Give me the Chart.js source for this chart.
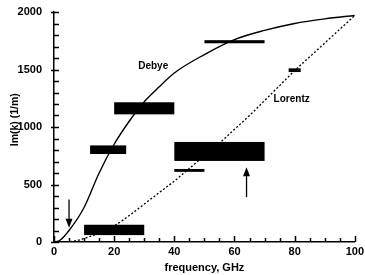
<!DOCTYPE html>
<html>
<head>
<meta charset="utf-8">
<script src="https://cdn.jsdelivr.net/npm/chart.js@4"></script>
<style>
  html, body { margin: 0; padding: 0; background: #fff; }
  #wrap { width: 365px; height: 275px; }
</style>
</head>
<body>
<div id="wrap"><canvas id="chart"></canvas></div>
<script>
// Curves
const debyeX = [0, 2, 5, 10, 15, 20, 25, 30, 35, 40, 50, 60, 70, 80, 90, 100];
const debyeY = [0, 15, 100, 300, 600, 850, 1050, 1220, 1350, 1470, 1630, 1760, 1840, 1900, 1940, 1970];
const lorentzX = [4, 7, 10, 15, 20, 25, 30, 35, 40, 45, 50, 55, 60, 65, 70, 75, 80, 85, 90, 95, 100];
const lorentzY = [0, 10, 30, 80, 140, 230, 330, 430, 530, 640, 750, 860, 980, 1100, 1230, 1360, 1490, 1610, 1730, 1850, 1970];

// Measurement bars: [xFrom, xTo, yLow, yHigh]
const barsX0 = [10, 12, 20, 40, 40, 50, 78];
const barsX1 = [30, 24, 40, 70, 50, 70, 82];
const barsY0 = [60, 765, 1110, 705, 610, 1728, 1478];
const barsY1 = [150, 840, 1215, 870, 635, 1755, 1510];

// Arrows: x, tail y, head y
const arrowX = [5, 64];
const arrowFrom = [370, 390];
const arrowTo = [125, 650];

// Curve labels
const labelText = ['Debye', 'Lorentz'];
const labelX = [28, 73];
const labelY = [1530, 1240];

const xTicks = [0, 20, 40, 60, 80, 100];
const yTicks = [0, 500, 1000, 1500, 2000];

const FONT = 'Liberation Sans, Arial, sans-serif';

const toPts = (xs, ys) => xs.map((x, i) => ({ x: x, y: ys[i] }));

// bars, arrows, text and inward ticks
const extras = {
    id: 'extras',
    afterDraw(chart) {
        const ctx = chart.ctx;
        const xs = chart.scales.x;
        const ys = chart.scales.y;
        const area = chart.chartArea;
        ctx.save();

        // bars
        ctx.fillStyle = '#000';
        for (let i = 0; i < barsX0.length; i++) {
            const l = xs.getPixelForValue(barsX0[i]);
            const r = xs.getPixelForValue(barsX1[i]);
            const t = ys.getPixelForValue(barsY1[i]);
            const b = ys.getPixelForValue(barsY0[i]);
            ctx.fillRect(l, t, r - l, b - t);
        }

        // arrows
        ctx.strokeStyle = '#000';
        ctx.lineWidth = 1.3;
        for (let i = 0; i < arrowX.length; i++) {
            const px = xs.getPixelForValue(arrowX[i]);
            const y0 = ys.getPixelForValue(arrowFrom[i]);
            const y1 = ys.getPixelForValue(arrowTo[i]);
            const dir = y1 > y0 ? 1 : -1;
            ctx.beginPath();
            ctx.moveTo(px, y0);
            ctx.lineTo(px, y1 - dir * 6);
            ctx.stroke();
            ctx.beginPath();
            ctx.moveTo(px, y1);
            ctx.lineTo(px - 3.5, y1 - dir * 9);
            ctx.lineTo(px + 3.5, y1 - dir * 9);
            ctx.closePath();
            ctx.fill();
        }

        // curve labels
        ctx.font = 'bold 10px ' + FONT;
        ctx.textAlign = 'left';
        ctx.textBaseline = 'middle';
        for (let i = 0; i < labelText.length; i++) {
            ctx.fillText(labelText[i], xs.getPixelForValue(labelX[i]), ys.getPixelForValue(labelY[i]));
        }

        // tick marks, mostly pointing into the plot
        ctx.lineWidth = 1.5;
        ctx.beginPath();
        for (let v = 0; v <= 2000; v += 100) {
            const py = Math.round(ys.getPixelForValue(v)) + 0.5;
            const major = v % 500 === 0;
            ctx.moveTo(area.left - (major ? 3 : 0), py);
            ctx.lineTo(area.left + 5, py);
        }
        for (let v = 0; v <= 100; v += 5) {
            const px = Math.round(xs.getPixelForValue(v)) + 0.5;
            const len = v % 20 === 0 ? 6 : 4;
            ctx.moveTo(px, area.bottom);
            ctx.lineTo(px, area.bottom - len);
        }
        ctx.stroke();
        ctx.restore();
    }
};

new Chart(document.getElementById('chart'), {
    type: 'line',
    data: {
        datasets: [{
            label: 'Debye',
            data: toPts(debyeX, debyeY),
            borderColor: '#000',
            borderWidth: 1.4,
            pointRadius: 0,
            cubicInterpolationMode: 'monotone',
            fill: false
        }, {
            label: 'Lorentz',
            data: toPts(lorentzX, lorentzY),
            borderColor: '#000',
            borderWidth: 1.3,
            borderDash: [2, 2],
            pointRadius: 0,
            cubicInterpolationMode: 'monotone',
            fill: false
        }]
    },
    options: {
        responsive: true,
        maintainAspectRatio: false,
        animation: false,
        layout: { padding: { left: 0, top: 12, right: 9, bottom: 0 } },
        plugins: {
            legend: { display: false },
            tooltip: { enabled: false }
        },
        scales: {
            x: {
                type: 'linear',
                min: 0,
                max: 100,
                grid: { display: false, tickLength: 2 },
                border: { display: true, color: '#000', width: 1.5 },
                afterBuildTicks: (s) => { s.ticks = xTicks.map(v => ({ value: v })); },
                ticks: { color: '#000', font: { family: FONT, size: 11, weight: 'bold' }, padding: 1, maxRotation: 0, callback: v => String(v) },
                title: { display: true, text: 'frequency, GHz', color: '#000', font: { family: FONT, size: 11, weight: 'bold' }, padding: { top: 4, bottom: 0 } },
                afterFit: (s) => { s.height = 33; }
            },
            y: {
                min: 0,
                max: 2000,
                grid: { display: false },
                border: { display: true, color: '#000', width: 1.5 },
                afterBuildTicks: (s) => { s.ticks = yTicks.map(v => ({ value: v })); },
                ticks: { color: '#000', font: { family: FONT, size: 11, weight: 'bold' }, padding: 4, callback: v => String(v) },
                title: { display: true, text: '     Im(k) (1/m)', color: '#000', font: { family: FONT, size: 10.5, weight: 'bold' }, padding: { top: 9, bottom: 0 } },
                afterFit: (s) => { s.width = 54; }
            }
        }
    },
    plugins: [extras]
});
</script>
</body>
</html>
